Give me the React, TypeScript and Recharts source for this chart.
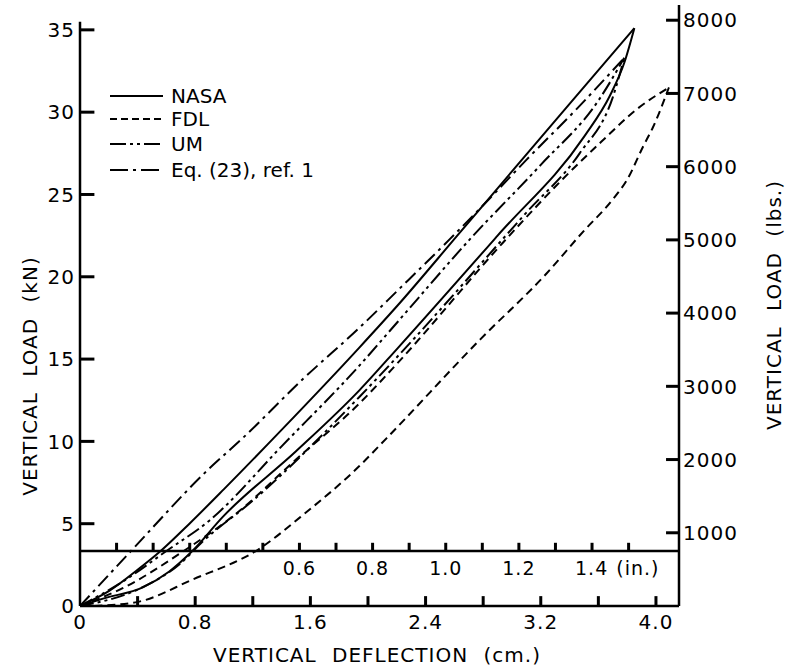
import React from 'react';
import { LineChart, Line, XAxis, YAxis, ReferenceLine, ReferenceDot } from 'recharts';

// ---------- data ----------
const X_TICKS = [0, 0.4, 0.8, 1.2, 1.6, 2.0, 2.4, 2.8, 3.2, 3.6, 4.0];
const X_TICK_LABELS = ['0', '', '0.8', '', '1.6', '', '2.4', '', '3.2', '', '4.0'];
const KN_TICKS = [0, 5, 10, 15, 20, 25, 30, 35];
const LBS_TICKS = [1000, 2000, 3000, 4000, 5000, 6000, 7000, 8000];
const INCH_TICKS = [0.1, 0.2, 0.3, 0.4, 0.5, 0.6, 0.7, 0.8, 0.9, 1.0, 1.1, 1.2, 1.3, 1.4, 1.5];
const INCH_LABEL_VALUES = [0.6, 0.8, 1.0, 1.2, 1.4];
const INCH_LABEL_TEXT = ['0.6', '0.8', '1.0', '1.2', '1.4'];
const INCH_AXIS_KN = 3.34;
const CM_PER_IN = 2.54;
const KN_TO_LBS = 224.809;
const X_MAX = 4.16;
const Y_MAX = 36.51;
const LEFT_AXIS_TOP = 35.5;

// tick mark lengths in axis units
const LEFT_TICK_LEN_CM = 0.1;
const RIGHT_TICK_LEN_CM = 0.09;
const BOTTOM_TICK_LEN_KN = 0.6;
const INCH_TICK_LEN_KN = 0.5;

// deflection (cm), load (kN)
const EQ23: number[][] = [
  [0, 0], [0.35, 3.3], [0.88, 8.2], [1.13, 10.2], [1.55, 13.8], [1.94, 16.9], [2.21, 19.2],
  [2.57, 22.3], [2.85, 24.8], [3.1, 27.1], [3.45, 30.2], [3.78, 33.3],
];
const NASA_LOAD: number[][] = [
  [0, 0], [0.2, 0.9], [0.4, 2.2], [0.56, 3.34], [0.76, 5.0], [1.0, 7.1], [1.4, 10.7],
  [1.94, 15.7], [2.21, 18.3], [2.62, 22.5], [3.0, 26.4], [3.4, 30.5], [3.85, 35.1],
];
const NASA_UNLOAD: number[][] = [
  [0, 0], [0.16, 0.45], [0.44, 1.15], [0.62, 2.1], [0.78, 3.34], [0.99, 5.4], [1.5, 9.4],
  [1.94, 13.1], [2.21, 15.7], [2.9, 22.5], [3.5, 28.5], [3.68, 31.0], [3.78, 33.0], [3.85, 35.1],
];
const UM_LOAD: number[][] = [
  [0, 0], [0.3, 1.5], [0.6, 3.34], [0.9, 5.2], [1.4, 9.7], [1.94, 14.6], [2.21, 17.3],
  [2.71, 22.3], [3.2, 26.8], [3.6, 30.7], [3.78, 33.3],
];
const UM_UNLOAD: number[][] = [
  [0, 0], [0.4, 1.0], [0.7, 2.6], [0.85, 3.9], [1.2, 6.4], [1.94, 12.7], [2.21, 15.2],
  [3.1, 23.9], [3.47, 27.5], [3.7, 30.9], [3.78, 33.3],
];
const FDL_LOAD: number[][] = [
  [0, 0], [0.3, 1.1], [0.72, 3.34], [1.09, 5.65], [1.5, 8.9], [1.94, 12.3], [2.21, 14.8],
  [2.94, 22.1], [3.36, 26.0], [3.62, 28.2], [3.87, 30.2], [4.09, 31.5],
];
const FDL_UNLOAD: number[][] = [
  [0.1, 0], [0.4, 0.25], [0.78, 1.6], [1.25, 3.5], [1.53, 5.4], [1.94, 8.5], [2.13, 10.2],
  [2.78, 16.2], [3.24, 20.2], [3.49, 22.7], [3.7, 24.7], [3.8, 25.9], [3.91, 27.9],
  [3.98, 29.1], [4.09, 31.5],
];

const LEGEND_LABELS = ['NASA', 'FDL', 'UM', 'Eq. (23), ref. 1'];

// ---------- styles ----------
const SOLID = undefined;
const DASH = '8 5';
const DASH_DOT = '14 5 3 5';
const DASH_DOT_DOT = '14 4 3 4 3 4';
const LEGEND_DASHES = [SOLID, '7 4', '16 4 3 4 3 4', '18 5 3 5'];

const toPts = (arr: number[][]) => arr.map(([x, y]) => ({ x, y }));

const FONT = 'DejaVu Sans, sans-serif';

const SERIES = [
  { name: 'nasa-load', data: NASA_LOAD, dash: SOLID },
  { name: 'nasa-unload', data: NASA_UNLOAD, dash: SOLID },
  { name: 'um-load', data: UM_LOAD, dash: DASH_DOT_DOT },
  { name: 'um-unload', data: UM_UNLOAD, dash: DASH_DOT_DOT },
  { name: 'fdl-load', data: FDL_LOAD, dash: DASH },
  { name: 'fdl-unload', data: FDL_UNLOAD, dash: DASH },
  { name: 'eq23', data: EQ23, dash: DASH_DOT },
];

// tick-mark segments (built from the tick arrays), drawn through the chart scales
const TICK_SEGMENTS: { id: string; axis: string; pts: { x: number; y: number }[] }[] = [
  ...KN_TICKS.filter((v) => v > 0).map((v) => ({
    id: 'kn' + v,
    axis: 'kn',
    pts: [{ x: 0, y: v }, { x: LEFT_TICK_LEN_CM, y: v }],
  })),
  ...LBS_TICKS.map((v) => ({
    id: 'lb' + v,
    axis: 'lbs',
    pts: [{ x: X_MAX - RIGHT_TICK_LEN_CM, y: v }, { x: X_MAX, y: v }],
  })),
  ...X_TICKS.filter((v) => v > 0).map((v) => ({
    id: 'cm' + v,
    axis: 'kn',
    pts: [{ x: v, y: 0 }, { x: v, y: BOTTOM_TICK_LEN_KN }],
  })),
  ...INCH_TICKS.map((v) => ({
    id: 'in' + v,
    axis: 'kn',
    pts: [{ x: v * CM_PER_IN, y: INCH_AXIS_KN }, { x: v * CM_PER_IN, y: INCH_AXIS_KN + INCH_TICK_LEN_KN }],
  })),
];

const xLabel = (v: number) => {
  const i = X_TICKS.findIndex((t) => Math.abs(t - v) < 1e-6);
  return i >= 0 ? X_TICK_LABELS[i] : '';
};

const num = (v: any) => Number(v);

const LeftTick = (p: any) => (
  <text x={num(p.x) - 5} y={num(p.y)} dy="0.36em" textAnchor="end" fontSize={20} fontFamily={FONT} letterSpacing={1} fill="#000">
    {p.payload.value}
  </text>
);

const RightTick = (p: any) => (
  <text x={num(p.x) + 4} y={num(p.y)} dy="0.36em" textAnchor="start" fontSize={20} fontFamily={FONT} letterSpacing={1} fill="#000">
    {p.payload.value}
  </text>
);

const BottomTick = (p: any) => (
  <text x={num(p.x)} y={num(p.y) + 23} textAnchor="middle" fontSize={20} fontFamily={FONT} letterSpacing={1} fill="#000">
    {xLabel(p.payload.value)}
  </text>
);

export default function App() {
  return (
    <div style={{ position: 'absolute', left: 0, top: 0, width: 785, height: 670, background: '#fff' }}>
      <LineChart width={785} height={670} margin={{ top: 5, right: 0, bottom: 0, left: 0 }}>
        <XAxis
          dataKey="x"
          type="number"
          domain={[0, X_MAX]}
          allowDataOverflow
          ticks={X_TICKS}
          interval={0}
          height={64}
          tickSize={0}
          tickMargin={0}
          axisLine={{ stroke: '#000', strokeWidth: 2.5 }}
          tickLine={false}
          tick={<BottomTick />}
        />
        <YAxis
          yAxisId="kn"
          type="number"
          domain={[0, Y_MAX]}
          allowDataOverflow
          ticks={KN_TICKS}
          interval={0}
          width={80}
          tickSize={0}
          tickMargin={0}
          axisLine={false}
          tickLine={false}
          tick={<LeftTick />}
        />
        <YAxis
          yAxisId="lbs"
          orientation="right"
          type="number"
          domain={[0, Y_MAX * KN_TO_LBS]}
          allowDataOverflow
          ticks={LBS_TICKS}
          interval={0}
          width={106}
          tickSize={0}
          tickMargin={0}
          axisLine={{ stroke: '#000', strokeWidth: 2.5 }}
          tickLine={false}
          tick={<RightTick />}
        />
        <ReferenceLine
          yAxisId="kn"
          segment={[{ x: 0, y: 0 }, { x: 0, y: LEFT_AXIS_TOP }]}
          stroke="#000"
          strokeWidth={2.5}
        />
        <ReferenceLine yAxisId="kn" y={INCH_AXIS_KN} stroke="#000" strokeWidth={2.5} />
        {INCH_LABEL_VALUES.map((t, i) => (
          <ReferenceDot
            key={'il' + t}
            yAxisId="kn"
            x={t * CM_PER_IN}
            y={INCH_AXIS_KN}
            r={0}
            fill="none"
            stroke="none"
            label={(p: any) => {
              const vb = p.viewBox || {};
              const cx = (vb.x || 0) + (vb.width || 0) / 2;
              const cy = (vb.y || 0) + (vb.height || 0) / 2;
              const last = i === INCH_LABEL_VALUES.length - 1;
              return (
                <text
                  x={last ? cx - 17 : cx}
                  y={cy + 24}
                  textAnchor={last ? 'start' : 'middle'}
                  fontSize={19}
                  fontFamily={FONT}
                  letterSpacing={1}
                  fill="#000"
                >
                  {INCH_LABEL_TEXT[i]}
                  {last ? <tspan dx={8}>(in.)</tspan> : null}
                </text>
              );
            }}
          />
        ))}
        {TICK_SEGMENTS.map((s) => (
          <Line
            key={s.id}
            yAxisId={s.axis}
            data={s.pts}
            dataKey="y"
            type="linear"
            dot={false}
            activeDot={false}
            stroke="#000"
            strokeWidth={3}
            isAnimationActive={false}
            legendType="none"
          />
        ))}
        {SERIES.map((s) => (
          <Line
            key={s.name}
            yAxisId="kn"
            data={toPts(s.data)}
            dataKey="y"
            type="monotone"
            dot={false}
            activeDot={false}
            stroke="#000"
            strokeWidth={2}
            strokeDasharray={s.dash}
            isAnimationActive={false}
          />
        ))}
      </LineChart>
      <svg
        width={785}
        height={670}
        style={{ position: 'absolute', left: 0, top: 0, pointerEvents: 'none' }}
      >
        {LEGEND_LABELS.map((lab, i) => {
          const ys = [96, 119, 144, 170];
          return (
            <g key={lab}>
              <line x1={110} x2={163} y1={ys[i]} y2={ys[i]} stroke="#000" strokeWidth={2} strokeDasharray={LEGEND_DASHES[i]} />
              <text x={171} y={ys[i] + 7} fontSize={20} fontFamily={FONT} fill="#000">
                {lab}
              </text>
            </g>
          );
        })}
        <text x={377} y={662} textAnchor="middle" fontSize={20} fontFamily={FONT} fill="#000" letterSpacing={1} wordSpacing={8}>
          VERTICAL DEFLECTION (cm.)
        </text>
        <text
          transform="translate(37,376) rotate(-90)"
          textAnchor="middle"
          fontSize={20}
          fontFamily={FONT}
          fill="#000"
          letterSpacing={1}
          wordSpacing={8}
        >
          VERTICAL LOAD (kN)
        </text>
        <text
          transform="translate(781,305) rotate(-90)"
          textAnchor="middle"
          fontSize={20}
          fontFamily={FONT}
          fill="#000"
          letterSpacing={1}
          wordSpacing={8}
        >
          VERTICAL LOAD (lbs.)
        </text>
      </svg>
    </div>
  );
}
